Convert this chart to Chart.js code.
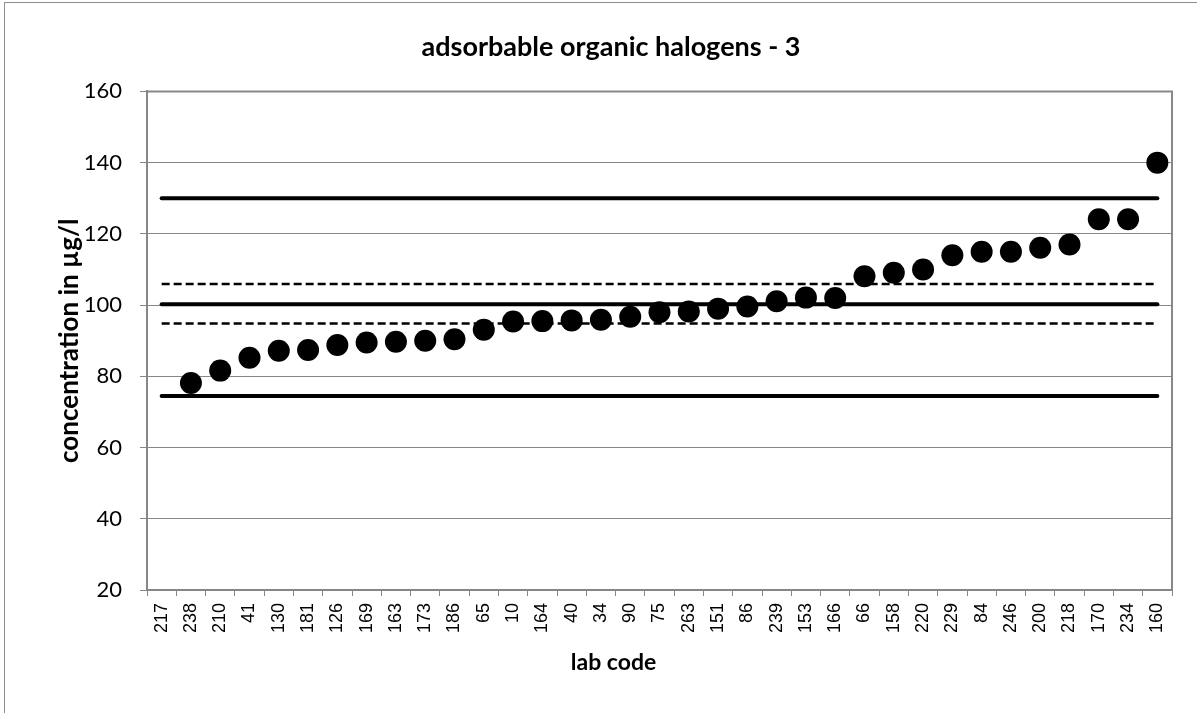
<!DOCTYPE html>
<html>
<head>
<meta charset="utf-8">
<script src="https://cdn.jsdelivr.net/npm/chart.js@4/dist/chart.umd.min.js"></script>
<style>
  body { margin: 0; background: #fff; }
  #wrap { position: relative; width: 1197px; height: 713px; overflow: hidden; }
  #frame { position: absolute; left: 4px; top: 2px; width: 1300px; height: 800px;
           border-left: 1px solid #8e8e8e; border-top: 1px solid #8e8e8e; }
  canvas { position: absolute; left: 0; top: 0; }
</style>
</head>
<body>
<div id="wrap">
  <div id="frame"></div>
  <canvas id="chart" width="1197" height="713"></canvas>
</div>
<script>
// lab codes along the x axis, in plotted order
const labCodes = ['217', '238', '210', '41', '130', '181', '126', '169', '163', '173', '186', '65',
    '10', '164', '40', '34', '90', '75', '263', '151', '86', '239', '153', '166',
    '66', '158', '220', '229', '84', '246', '200', '218', '170', '234', '160'];

// measured concentrations (µg/l), 217 is not shown on the chart
const concentrations = [null, 78.1, 81.6, 85.2, 87.2, 87.4, 88.8, 89.5, 89.7, 90.0, 90.4, 93.1,
    95.4, 95.5, 95.7, 95.9, 96.7, 98.0, 98.2, 99.0, 99.6, 101.1, 102.1, 102.0,
    108.1, 109.1, 110.0, 114.0, 115.0, 115.0, 116.1, 117.0, 124.1, 124.1, 140.0];

// reference lines
const assignedValue = 100.2;
const upperTolerance = 130.0;
const lowerTolerance = 74.5;
const upperUncertainty = 105.9;
const lowerUncertainty = 94.8;

const yTicks = [20, 40, 60, 80, 100, 120, 140, 160];

const gridGray = '#878787';
const labelFont = 'Lato, "Open Sans", sans-serif';

function flatLine(value, dashed) {
    return {
        type: 'line',
        data: labCodes.map(() => value),
        borderColor: '#000',
        borderWidth: dashed ? 2.5 : 4,
        borderDash: dashed ? [8, 4] : [],
        borderCapStyle: dashed ? 'butt' : 'round',
        pointRadius: 0,
        fill: false,
        order: 2
    };
}

// frame round the plot area + the x axis title (excel puts it a bit left of centre)
const plotFrame = {
    id: 'plotFrame',
    afterDatasetsDraw(chart) {
        const a = chart.chartArea;
        const ctx = chart.ctx;
        ctx.save();
        ctx.strokeStyle = gridGray;
        ctx.lineWidth = 2;
        ctx.beginPath();
        ctx.moveTo(a.left, a.top);
        ctx.lineTo(a.right, a.top);
        ctx.lineTo(a.right, a.bottom);
        ctx.stroke();

        ctx.fillStyle = '#000';
        ctx.font = 'bold 23px ' + labelFont;
        ctx.textAlign = 'center';
        ctx.textBaseline = 'middle';
        ctx.fillText('lab code', (a.left + a.right) / 2 - 46, chart.scales.x.bottom - 22);
        ctx.restore();
    }
};

const config = {
    type: 'line',
    data: {
        labels: labCodes,
        datasets: [
            {
                type: 'line',
                data: concentrations,
                showLine: false,
                pointRadius: 11,
                pointBackgroundColor: '#000',
                pointBorderWidth: 0,
                order: 1
            },
            flatLine(upperTolerance, false),
            flatLine(upperUncertainty, true),
            flatLine(assignedValue, false),
            flatLine(lowerUncertainty, true),
            flatLine(lowerTolerance, false)
        ]
    },
    options: {
        responsive: false,
        animation: false,
        events: [],
        layout: { padding: { left: 50, right: 25, top: 0, bottom: 28 } },
        plugins: {
            legend: { display: false },
            tooltip: { enabled: false },
            title: {
                display: true,
                text: 'adsorbable organic halogens - 3',
                color: '#000',
                font: { family: labelFont, size: 27, weight: 'bold' },
                padding: { top: 31, bottom: 28 }
            }
        },
        scales: {
            x: {
                type: 'category',
                offset: true,
                grid: {
                    display: true,
                    offset: true,
                    drawOnChartArea: false,
                    drawTicks: true,
                    tickLength: 6,
                    color: gridGray
                },
                border: { display: true, color: gridGray, width: 2 },
                ticks: {
                    autoSkip: false,
                    minRotation: 90,
                    maxRotation: 90,
                    padding: 7,
                    color: '#000',
                    font: { family: '"Liberation Sans", Arial, sans-serif', size: 18 }
                },
                title: { display: false },
                afterFit(scale) { scale.height = 95; }
            },
            y: {
                min: 20,
                max: 160,
                afterBuildTicks(scale) {
                    scale.ticks = yTicks.map(v => ({ value: v }));
                },
                grid: {
                    color: gridGray,
                    lineWidth: 1,
                    drawTicks: true,
                    tickLength: 7
                },
                border: { display: true, color: gridGray, width: 2 },
                ticks: {
                    padding: 18,
                    color: '#000',
                    font: { family: labelFont, size: 22 }
                },
                title: {
                    display: true,
                    text: 'concentration in µg/l',
                    color: '#000',
                    font: { family: labelFont, size: 26, weight: 'bold' },
                    padding: { top: 4, bottom: 4 }
                },
                afterFit(scale) { scale.width = 97; }
            }
        }
    },
    plugins: [plotFrame]
};

new Chart(document.getElementById('chart'), config);
</script>
</body>
</html>
